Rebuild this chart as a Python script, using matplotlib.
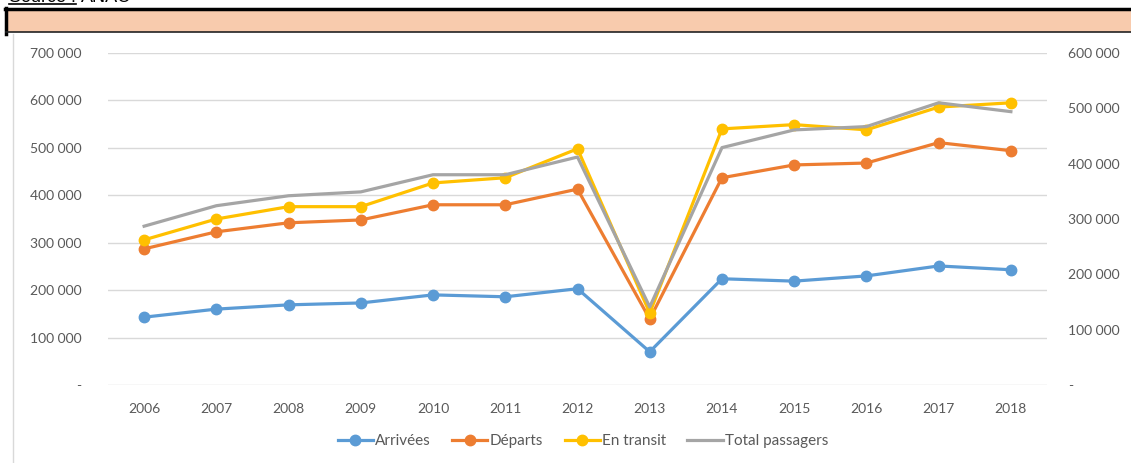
import matplotlib
matplotlib.use("Agg")
import matplotlib.pyplot as plt
from matplotlib.lines import Line2D
from matplotlib.patches import Rectangle
from matplotlib.ticker import FuncFormatter

years = ["2006", "2007", "2008", "2009", "2010", "2011", "2012",
         "2013", "2014", "2015", "2016", "2017", "2018"]
arrivees = [143000, 160000, 169000, 173000, 190000, 186000, 203000,
            70000, 224000, 219000, 230000, 251000, 243000]
departs = [287000, 323000, 342000, 348000, 380000, 380000, 413000,
           139000, 437000, 464000, 468000, 511000, 494000]
en_transit = [306000, 350000, 376000, 376000, 426000, 437000, 498000,
              152000, 540000, 549000, 538000, 586000, 595000]
total_passagers = [287000, 324000, 342000, 349000, 380000, 380000, 412000,
                   141000, 429000, 461000, 467000, 510000, 494000]

W, H = 1131, 463
fig = plt.figure(figsize=(W / 100, H / 100), dpi=100)
plt.rcParams['font.family'] = ['Lato', 'DejaVu Sans']

def fx(px):
    return px / W

def fy(py):
    return 1 - py / H

# Header: source text (cut off at the top, as in the original) and peach band
t1 = fig.text(fx(9), fy(1.5), "Source :", fontsize=13, color="black", va="baseline",
              ha="left", family="Liberation Sans")
fig.canvas.draw()
bb = t1.get_window_extent()
x_end = bb.x1
fig.add_artist(Line2D([fx(9), x_end / W], [fy(4), fy(4)], color="black", lw=1.2))
fig.text(x_end / W + fx(5), fy(1.5), "ANAC", fontsize=13, color="black", va="baseline",
         ha="left", family="Liberation Sans")

fig.add_artist(Rectangle((fx(6), fy(32)), fx(1131) - fx(6), fy(9) - fy(32),
                         transform=fig.transFigure, facecolor="#F8CBAD", edgecolor="none"))
fig.add_artist(Line2D([fx(5), fx(1131)], [fy(9), fy(9)], color="black", lw=2.5))
fig.add_artist(Line2D([fx(6), fx(6)], [fy(8), fy(34)], color="black", lw=2.5))
fig.add_artist(Line2D([fx(6), fx(1131)], [fy(32), fy(32)], color="#222222", lw=1.2))
fig.add_artist(Line2D([fx(12.5), fx(12.5)], [fy(34), fy(463)], color="#d9d9d9", lw=1))

left, right = 108, 1047
top, bottom = 53, 385
ax = fig.add_axes([fx(left), fy(bottom), fx(right) - fx(left), fy(top) - fy(bottom)])
ax2 = ax.twinx()

x = list(range(len(years)))
lw = 2.3
ms = 7.5
l1, = ax.plot(x, arrivees, color="#5B9BD5", lw=lw, marker="o", ms=ms, label="Arrivées")
l2, = ax.plot(x, departs, color="#ED7D31", lw=lw, marker="o", ms=ms, label="Départs")
l3, = ax.plot(x, en_transit, color="#FFC000", lw=lw, marker="o", ms=ms, label="En transit")
l4, = ax2.plot(x, total_passagers, color="#A5A5A5", lw=lw, label="Total passagers")

ax.set_xlim(-0.5, len(years) - 0.5)
ax.set_ylim(0, 700000)
ax2.set_ylim(0, 600000)
ax.set_yticks(range(0, 700001, 100000))
ax2.set_yticks(range(0, 600001, 100000))

def fmt(v, pos):
    if v == 0:
        return "-"
    return f"{int(v):,}".replace(",", " ")

ax.yaxis.set_major_formatter(FuncFormatter(fmt))
ax2.yaxis.set_major_formatter(FuncFormatter(fmt))
ax.set_xticks(x)
ax.set_xticklabels(years)

for a in (ax, ax2):
    for s in a.spines.values():
        s.set_visible(False)
    a.tick_params(length=0, colors="#595959", labelsize=10)
ax.tick_params(axis="y", pad=19)
ax2.tick_params(axis="y", pad=15)
ax.tick_params(axis="x", pad=13)
ax.grid(axis="y", color="#d9d9d9", lw=1)
ax.set_axisbelow(True)

fig.legend(handles=[l1, l2, l3, l4], loc="center", ncol=4, frameon=False,
           bbox_to_anchor=(fx(583), fy(441)), fontsize=11, labelcolor="#595959",
           handlelength=2.3, handletextpad=0.15, columnspacing=1.4)

fig.savefig("out.png", dpi=100)
